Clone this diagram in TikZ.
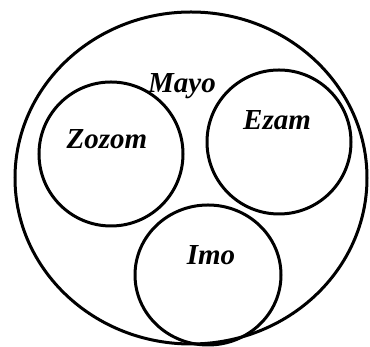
\documentclass[tikz,border=0pt]{standalone}
\usepackage{fontspec}
\setmainfont{Liberation Serif}
\usetikzlibrary{shapes.geometric}
\begin{document}
\begin{tikzpicture}[x=1pt,y=1pt,
  ring/.style={draw=black, line width=3pt, inner sep=0pt},
  setc/.style={ring, circle, minimum size=144pt},
  lbl/.style={font=\fontsize{29}{30}\selectfont\bfseries\itshape, inner sep=0pt}]
\useasboundingbox[fill=white] (0,0) rectangle (370,347);
\node[ring, ellipse, minimum width=352pt, minimum height=332pt] (outer) at (191,169) {};
\node[setc] (zozom) at (111,193) {};
\node[setc] (ezam) at (279,205) {};
\node[setc, minimum width=146pt, minimum height=140pt, ellipse] (imo) at (208,72) {};
\node[lbl] (lmayo) at (182,261) {Mayo};
\node[lbl] (lzozom) at (107,208) {Zozom};
\node[lbl] (lezam) at (277,227) {Ezam};
\node[lbl] (limo) at (211,92) {Imo};
\end{tikzpicture}
\end{document}
